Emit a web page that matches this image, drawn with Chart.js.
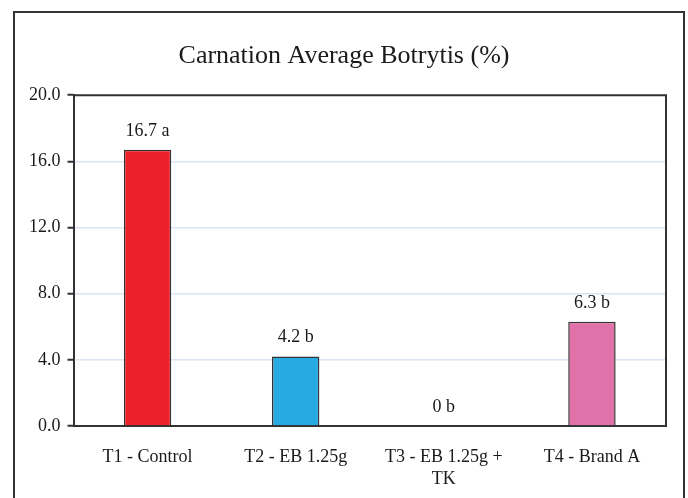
<!DOCTYPE html>
<html>
<head>
<meta charset="utf-8">
<script src="https://cdn.jsdelivr.net/npm/chart.js@4/dist/chart.umd.min.js"></script>
<style>
  html, body { margin: 0; padding: 0; background: #fff; }
  #wrap { width: 688px; height: 498px; }
</style>
</head>
<body>
<div id="wrap"><canvas id="chart" width="688" height="498"></canvas></div>
<script>
// ============================
// DATA
// ============================
const categories = ["T1 - Control", "T2 - EB 1.25g", ["T3 - EB 1.25g +", "TK"], "T4 - Brand A"];
const botrytis = [16.7, 4.2, 0, 6.3];
const letters = ["a", "b", "b", "b"];
const barColors = ["#ec2029", "#27aae1", "#ec2029", "#e072a9"];
const yTicks = [0, 4, 8, 12, 16, 20];

const SERIF = "'Liberation Serif', 'Times New Roman', serif";

// ============================
// PLUGINS
// ============================
const frame = {
  id: "frame",
  beforeDraw(chart) {
    const c = chart.ctx;
    c.save();
    c.fillStyle = "#fff";
    c.fillRect(0, 0, chart.width, chart.height);
    // outer box (bottom edge is cut off in the picture)
    c.strokeStyle = "#333";
    c.lineWidth = 2;
    c.beginPath();
    c.moveTo(14, 498);
    c.lineTo(14, 12);
    c.lineTo(684, 12);
    c.lineTo(684, 498);
    c.stroke();
    c.restore();
  },
  afterDatasetsDraw(chart) {
    const c = chart.ctx;
    const a = chart.chartArea;
    c.save();
    c.strokeStyle = "#333";
    c.lineWidth = 2;
    c.beginPath();
    c.moveTo(a.left, a.top);
    c.lineTo(a.right, a.top);
    c.lineTo(a.right, a.bottom);
    c.stroke();

    // value labels above bars
    const meta = chart.getDatasetMeta(0);
    c.fillStyle = "#1a1a1a";
    c.font = "18px " + SERIF;
    c.textAlign = "center";
    c.textBaseline = "bottom";
    meta.data.forEach((bar, i) => {
      const v = botrytis[i];
      const txt = (v === 0 ? "0" : v.toFixed(1)) + " " + letters[i];
      c.fillText(txt, bar.x, bar.y - 10);
    });
    c.restore();
  }
};

// ============================
// CHART
// ============================
new Chart(document.getElementById("chart"), {
  type: "bar",
  data: {
    labels: categories,
    datasets: [{
      data: botrytis,
      backgroundColor: barColors,
      borderColor: "#333",
      borderWidth: 1.5,
      borderSkipped: "bottom",
      barPercentage: 0.32,
      categoryPercentage: 1
    }]
  },
  options: {
    responsive: false,
    animation: false,
    layout: { padding: { left: 22, right: 22, top: 41, bottom: 0 } },
    plugins: {
      legend: { display: false },
      tooltip: { enabled: false },
      title: {
        display: true,
        text: "Carnation Average Botrytis (%)",
        color: "#1a1a1a",
        font: { family: SERIF, size: 26, weight: "normal" },
        padding: { top: 0, bottom: 23 }
      }
    },
    scales: {
      x: {
        grid: { display: false, drawTicks: false },
        border: { display: true, color: "#333", width: 2 },
        afterFit(axis) { axis.height = 72; },
        ticks: {
          color: "#1a1a1a",
          padding: 20,
          maxRotation: 0,
          font: { family: SERIF, size: 18, lineHeight: 1.25 }
        }
      },
      y: {
        min: 0,
        max: 20,
        afterBuildTicks(axis) { axis.ticks = yTicks.map(v => ({ value: v })); },
        grid: {
          color: ctx => (ctx.tick && (ctx.tick.value === 0 || ctx.tick.value === 20)) ? "rgba(0,0,0,0)" : "#dce6f2",
          lineWidth: 1.5,
          tickColor: "#333",
          tickLength: 6,
          tickWidth: 2
        },
        border: { display: true, color: "#333", width: 2 },
        ticks: {
          color: "#1a1a1a",
          padding: 7,
          font: { family: SERIF, size: 18 },
          callback: v => Number(v).toFixed(1)
        }
      }
    }
  },
  plugins: [frame]
});
</script>
</body>
</html>
